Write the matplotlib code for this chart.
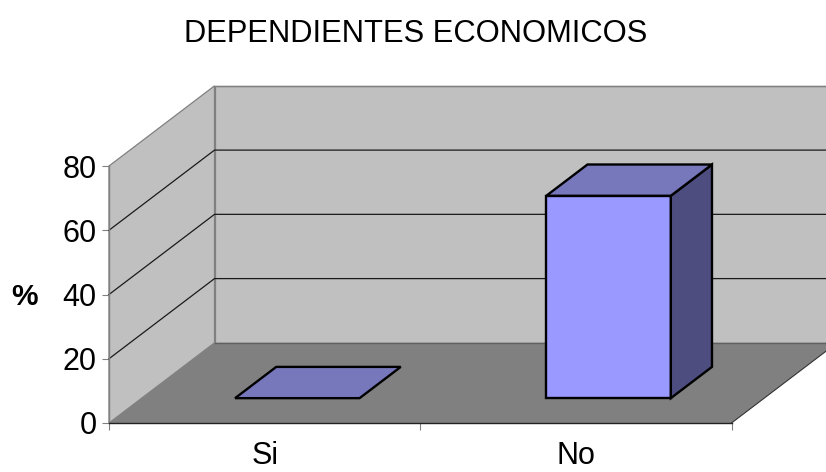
#!/usr/bin/env python3
# plot.py
import matplotlib
matplotlib.use("Agg")
import matplotlib.pyplot as plt
from matplotlib.patches import Polygon

plt.rcParams["font.family"] = ["Liberation Sans", "DejaVu Sans"]

categories = ["Si", "No"]
values = [0, 63]
y_ticks = [0, 20, 40, 60, 80]
title = "DEPENDIENTES ECONOMICOS"
y_label = "%"

W, H = 826, 472
# oblique offset of the back wall, in data units
DX = 0.339
DY = 24.95
BAR_W = 0.40
BAR_D0 = 0.31
BAR_D1 = 0.70


def proj(x, y, d):
    """x category units, y value, d depth 0..1"""
    return (x + DX * d, y + DY * d)


def face(ax, pts, fc, ec="none", lw=0.0, z=1):
    ax.add_patch(Polygon([proj(*p) for p in pts], closed=True, facecolor=fc,
                         edgecolor=ec, linewidth=lw, zorder=z, clip_on=False,
                         joinstyle="miter"))


fig = plt.figure(figsize=(W / 100, H / 100), dpi=100)
ax = fig.add_axes([109 / W, 1 - 423 / H, (731.5 - 109) / W, (423 - 166) / H])
ax.set_xlim(0, 2)
ax.set_ylim(0, 80)
ax.patch.set_visible(False)

xmax = 2.0
ymax = y_ticks[-1]

# walls and floor
face(ax, [(0, 0, 1), (xmax, 0, 1), (xmax, ymax, 1), (0, ymax, 1)], "#C0C0C0", "#808080", 0.9)
face(ax, [(0, 0, 0), (0, 0, 1), (0, ymax, 1), (0, ymax, 0)], "#C0C0C0", "#808080", 0.9)
face(ax, [(0, 0, 0), (xmax, 0, 0), (xmax, 0, 1), (0, 0, 1)], "#808080", z=1.5)

# gridlines, side wall then back wall
for v in y_ticks[1:-1]:
    x0, y0 = proj(0, v, 0)
    x1, y1 = proj(0, v, 1)
    x2, y2 = proj(xmax, v, 1)
    ax.plot([x0, x1, x2], [y0, y1, y2], color="#1a1a1a", lw=0.9, zorder=2, clip_on=False)
x1, y1 = proj(0, ymax, 1)
x2, y2 = proj(xmax, ymax, 1)
ax.plot([x1, x2], [y1, y2], color="#808080", lw=1.0, zorder=2, clip_on=False)
x1, y1 = proj(0, 0, 1)
x2, y2 = proj(xmax, 0, 1)
ax.plot([x1, x2], [y1, y2], color="#606060", lw=1.0, zorder=2, clip_on=False)
x1, y1 = proj(xmax, 0, 0)
x2, y2 = proj(xmax, 0, 1)
ax.plot([x1, x2], [y1, y2], color="#333333", lw=0.8, zorder=2, clip_on=False)

# bars
for i, v in enumerate(values):
    l = i + 0.5 - BAR_W / 2
    r = i + 0.5 + BAR_W / 2
    if v > 0:
        face(ax, [(l, 0, BAR_D0), (r, 0, BAR_D0), (r, v, BAR_D0), (l, v, BAR_D0)],
             "#9999FF", "black", 1.7, z=3)
        face(ax, [(r, 0, BAR_D0), (r, 0, BAR_D1), (r, v, BAR_D1), (r, v, BAR_D0)],
             "#4D4D80", "black", 1.7, z=3)
    face(ax, [(l, v, BAR_D0), (r, v, BAR_D0), (r, v, BAR_D1), (l, v, BAR_D1)],
         "#7777BB", "black", 1.7, z=3)

# axes
for s in ["top", "right"]:
    ax.spines[s].set_visible(False)
ax.spines["left"].set_color("#808080")
ax.spines["left"].set_linewidth(1.0)
ax.spines["left"].set_zorder(4)
ax.spines["bottom"].set_color("#222222")
ax.spines["bottom"].set_linewidth(1.0)
ax.spines["bottom"].set_zorder(4)

ax.set_yticks(y_ticks)
ax.set_xticks([0, 1, 2])
ax.set_xticklabels([])
ax.set_xticks([0.5, 1.5], labels=categories, minor=True)
ax.tick_params(axis="y", length=5, width=0.8, color="#808080", labelsize=22, pad=4)
ax.tick_params(axis="x", which="major", length=5, width=0.8, color="#808080")
ax.tick_params(axis="x", which="minor", length=0, labelsize=22, pad=13)

fig.text(416 / W, 1 - 34 / H, title, ha="center", va="center", fontsize=22.2)
fig.text(24 / W, 1 - 297 / H, y_label, ha="center", va="center", fontsize=21.5, fontweight="bold")

fig.savefig("out.png", dpi=100)
plt.close(fig)
